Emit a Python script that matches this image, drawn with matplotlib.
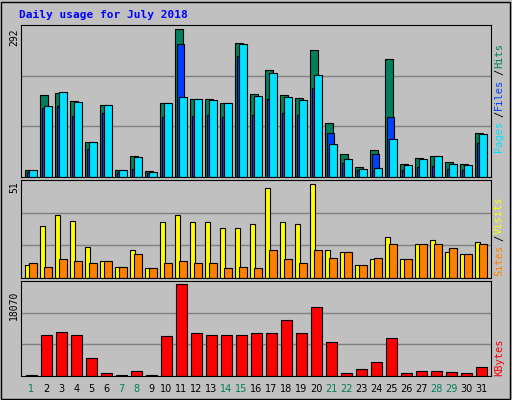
import numpy as np
import matplotlib.pyplot as plt

days = list(range(1, 32))
weekend = [1, 7, 8, 14, 15, 21, 22, 28, 29]

hits = [13, 162, 167, 151, 69, 143, 13, 42, 11, 146, 292, 154, 154, 147, 266, 165, 212, 162, 157, 252, 106, 46, 20, 54, 233, 25, 38, 42, 30, 26, 88]
files = [9, 137, 140, 121, 56, 127, 9, 15, 7, 118, 264, 121, 123, 119, 239, 123, 155, 126, 123, 177, 88, 28, 13, 46, 119, 13, 19, 21, 15, 13, 68]
pages = [13, 140, 168, 149, 69, 143, 13, 40, 9, 146, 159, 154, 152, 147, 264, 161, 205, 159, 152, 201, 66, 36, 15, 17, 76, 23, 36, 42, 26, 24, 86]
visits = [7.2, 28.2, 34.3, 30.9, 17.0, 9.4, 6.1, 15.5, 5.5, 30.5, 34.3, 30.5, 30.5, 27.2, 27.2, 29.4, 49.3, 30.5, 29.4, 51.0, 15.5, 14.4, 7.2, 10.5, 22.2, 10.5, 18.3, 20.5, 14.4, 13.3, 19.4]
sites = [8.3, 6.1, 10.5, 9.4, 8.3, 9.4, 6.1, 13.3, 5.5, 8.3, 9.4, 8.3, 8.3, 5.5, 6.1, 5.5, 15.5, 10.5, 8.3, 15.5, 11.1, 14.4, 7.2, 11.1, 18.3, 10.5, 18.3, 18.3, 16.1, 13.3, 18.3]
kbytes = [260, 8150, 8740, 8150, 3610, 660, 260, 1050, 260, 7950, 18070, 8410, 8150, 8150, 8150, 8540, 8540, 10910, 8410, 13540, 6770, 660, 1450, 2830, 7560, 660, 1050, 1050, 850, 660, 1840]

bg = '#C0C0C0'
W, H = 512, 400
fig = plt.figure(figsize=(5.12, 4.0), dpi=100, facecolor=bg)
mono = 'DejaVu Sans Mono'

# outer frame
fig.add_artist(plt.Rectangle((1 / W, 1 / H), 509 / W, 397 / H, transform=fig.transFigure,
                             fill=False, edgecolor='black', lw=1))
fig.text(19 / W, 1 - 15 / H, 'Daily usage for July 2018', color='#0000FF',
         fontsize=8, fontweight='bold', family=mono, va='center')

x = np.arange(len(days))


def panel(top, bottom):
    ax = fig.add_axes([21 / W, 1 - bottom / H, 470 / W, (bottom - top) / H])
    ax.set_facecolor(bg)
    ax.set_xlim(-0.27, 31.07)
    ax.set_xticks([])
    ax.set_yticks([])
    for s in ax.spines.values():
        s.set_color('black')
    return ax


def grid(ax, top):
    for f in (1 / 3, 2 / 3):
        ax.axhline(top * f, color='#808080', lw=1, zorder=0)
    ax.set_ylim(0, top)


ax1 = panel(25, 177)
grid(ax1, 300.7)
kw = dict(align='edge', edgecolor='black', linewidth=0.8, zorder=2)
ax1.bar(x, hits, width=0.52, color='#00805C', **kw)
ax1.bar(x + 0.13, files, width=0.5, color='#0040FF', **kw)
ax1.bar(x + 0.29, pages, width=0.5, color='#00E0FF', **kw)

ax2 = panel(180, 278)
grid(ax2, 53.4)
ax2.bar(x, visits, width=0.36, color='#FFFF00', **kw)
ax2.bar(x + 0.27, sites, width=0.5, color='#FF8000', **kw)

ax3 = panel(281, 376)
grid(ax3, 18660)
ax3.bar(x + 0.07, kbytes, width=0.7, color='#FF0000', **kw)

# max labels
for y, t in [(37, '292'), (187, '51'), (305, '18070')]:
    fig.text(14 / W, 1 - y / H, t, rotation=90, fontsize=7, family=mono,
             ha='center', va='center')


def side(ytop, parts):
    # stack rotated labels bottom-up
    y = ytop
    for t, c in parts:
        fig.text(499 / W, 1 - y / H, t, rotation=90, fontsize=7.5, family=mono,
                 color=c, ha='center', va='bottom')
        y -= len(t) * 7.0


side(152, [('Pages', '#00E0FF'), ('/', 'black'), ('Files', '#0040FF'), ('/', 'black'), ('Hits', '#00805C')])
side(276, [('Sites', '#FF8000'), ('/', 'black'), ('Visits', '#FFFF00')])
side(376, [('KBytes', '#FF0000')])

for d in days:
    px = 21 + (0.27 + d - 1 + 0.42) * 470 / 31.34
    fig.text(px / W, 1 - 389 / H, str(d), fontsize=7, family='DejaVu Sans',
             color='#00805C' if d in weekend else 'black', ha='center', va='center')

fig.savefig('out.png', dpi=100, facecolor=bg)
